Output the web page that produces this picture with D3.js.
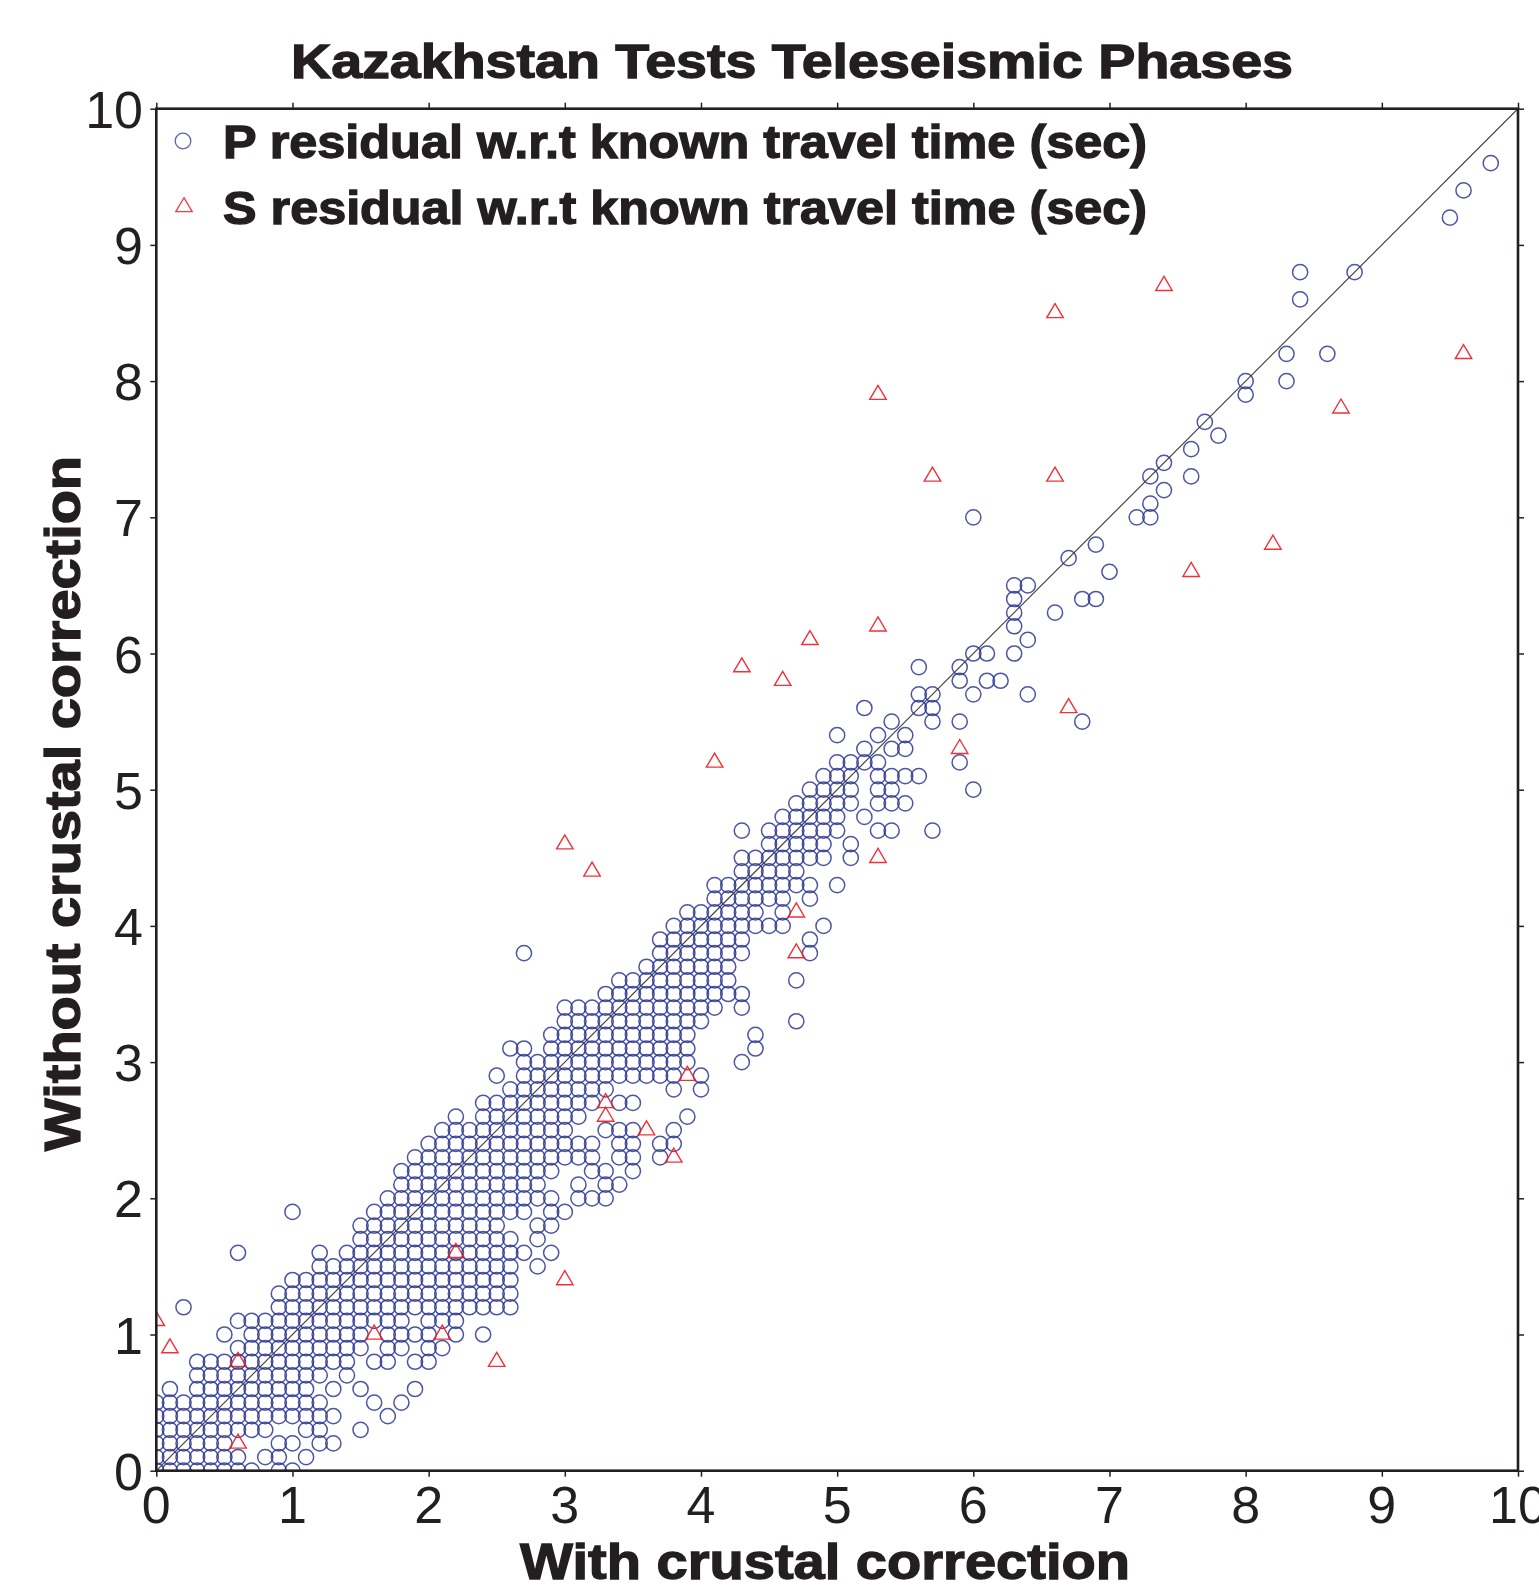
<!DOCTYPE html>
<html>
<head>
<meta charset="utf-8">
<script src="https://cdn.jsdelivr.net/npm/d3@7"></script>
<style>
  html, body { margin: 0; padding: 0; background: #fff; }
  svg { display: block; }
</style>
</head>
<body>
<svg id="chart" width="1539" height="1590"></svg>
<script>
// ---------------- DATA ----------------
const title = "Kazakhstan Tests Teleseismic Phases";
const xLabel = "With crustal correction";
const yLabel = "Without crustal correction";
const legendLabels = ["P residual w.r.t known travel time (sec)", "S residual w.r.t known travel time (sec)"];
const xTicks = [0, 1, 2, 3, 4, 5, 6, 7, 8, 9, 10];
const yTicks = [0, 1, 2, 3, 4, 5, 6, 7, 8, 9, 10];

// P residuals: runs of points on the 0.1 grid, [y, xFrom, xTo] (inclusive)
const pRuns = [
  [0.0,0.0,0.7],[0.0,0.9,1.0],
  [0.1,0.0,0.6],[0.1,0.8,0.9],[0.1,1.1,1.1],
  [0.2,0.0,0.5],[0.2,0.9,1.0],[0.2,1.2,1.3],
  [0.3,0.0,0.8],[0.3,1.1,1.2],[0.3,1.5,1.5],
  [0.4,0.0,1.3],[0.4,1.7,1.7],
  [0.5,0.0,1.2],[0.5,1.6,1.6],[0.5,1.8,1.8],
  [0.6,0.1,0.1],[0.6,0.3,1.1],[0.6,1.3,1.3],[0.6,1.5,1.5],[0.6,1.9,1.9],
  [0.7,0.3,1.2],[0.7,1.4,1.4],
  [0.8,0.3,1.4],[0.8,1.6,1.7],[0.8,1.9,2.0],
  [0.9,0.6,1.5],[0.9,1.7,1.8],[0.9,2.0,2.1],
  [1.0,0.5,0.5],[1.0,0.7,1.5],[1.0,1.7,2.0],[1.0,2.2,2.2],[1.0,2.4,2.4],
  [1.1,0.6,1.8],[1.1,2.0,2.2],
  [1.2,0.2,0.2],[1.2,0.9,2.6],
  [1.3,0.9,2.6],
  [1.4,1.0,2.6],
  [1.5,1.2,2.6],[1.5,2.8,2.8],
  [1.6,0.6,0.6],[1.6,1.2,1.2],[1.6,1.4,2.7],[1.6,2.9,2.9],
  [1.7,1.5,2.6],[1.7,2.8,2.8],
  [1.8,1.5,2.5],[1.8,2.8,2.9],
  [1.9,1.0,1.0],[1.9,1.6,2.7],[1.9,2.9,3.0],
  [2.0,1.7,2.9],[2.0,3.1,3.3],
  [2.1,1.8,2.8],[2.1,3.1,3.1],[2.1,3.3,3.4],
  [2.2,1.8,2.9],[2.2,3.2,3.3],[2.2,3.5,3.5],
  [2.3,1.9,3.2],[2.3,3.4,3.5],[2.3,3.7,3.7],
  [2.4,2.0,3.2],[2.4,3.4,3.5],[2.4,3.7,3.8],
  [2.5,2.1,3.0],[2.5,3.3,3.5],[2.5,3.8,3.8],
  [2.6,2.2,2.2],[2.6,2.4,3.1],[2.6,3.9,3.9],
  [2.7,2.4,3.2],[2.7,3.4,3.5],
  [2.8,2.6,3.3],[2.8,3.8,3.8],[2.8,4.0,4.0],
  [2.9,2.5,2.5],[2.9,2.7,3.8],[2.9,4.0,4.0],
  [3.0,2.7,3.9],[3.0,4.3,4.3],
  [3.1,2.6,2.7],[3.1,2.9,3.9],[3.1,4.4,4.4],
  [3.2,2.9,3.9],[3.2,4.4,4.4],
  [3.3,3.0,4.0],[3.3,4.7,4.7],
  [3.4,3.0,4.1],[3.4,4.3,4.3],
  [3.5,3.3,4.3],
  [3.6,3.4,4.2],[3.6,4.7,4.7],
  [3.7,3.6,4.2],
  [3.8,2.7,2.7],[3.8,3.7,4.3],[3.8,4.8,4.8],
  [3.9,3.7,4.3],[3.9,4.8,4.8],
  [4.0,3.8,4.6],[4.0,4.9,4.9],
  [4.1,3.9,4.4],[4.1,4.6,4.6],
  [4.2,4.1,4.6],[4.2,4.8,4.8],
  [4.3,4.1,4.8],[4.3,5.0,5.0],
  [4.4,4.3,4.7],
  [4.5,4.3,4.9],[4.5,5.1,5.1],
  [4.6,4.5,4.9],[4.6,5.1,5.1],
  [4.7,4.3,4.3],[4.7,4.5,5.0],[4.7,5.3,5.4],[4.7,5.7,5.7],
  [4.8,4.6,5.0],[4.8,5.2,5.2],
  [4.9,4.7,5.1],[4.9,5.3,5.5],
  [5.0,4.8,5.1],[5.0,5.3,5.4],[5.0,6.0,6.0],
  [5.1,4.9,5.1],[5.1,5.3,5.6],
  [5.2,5.0,5.3],[5.2,5.9,5.9],
  [5.3,5.2,5.2],[5.3,5.4,5.5],
  [5.4,5.0,5.0],[5.4,5.3,5.3],[5.4,5.5,5.5],
  [5.5,5.4,5.4],[5.5,5.7,5.7],[5.5,5.9,5.9],[5.5,6.8,6.8],
  [5.6,5.2,5.2],[5.6,5.6,5.7],
  [5.7,5.6,5.7],[5.7,6.0,6.0],[5.7,6.4,6.4],
  [5.8,5.9,5.9],[5.8,6.1,6.2],
  [5.9,5.6,5.6],[5.9,5.9,5.9],
  [6.0,6.0,6.1],[6.0,6.3,6.3],
  [6.1,6.4,6.4],
  [6.2,6.3,6.3],
  [6.3,6.3,6.3],[6.3,6.6,6.6],
  [6.4,6.3,6.3],[6.4,6.8,6.9],
  [6.5,6.3,6.4],
  [6.6,7.0,7.0],
  [6.7,6.7,6.7],
  [6.8,6.9,6.9],
  [7.0,6.0,6.0],[7.0,7.2,7.3],
  [7.1,7.3,7.3],
  [7.2,7.4,7.4],
  [7.3,7.3,7.3],[7.3,7.6,7.6],
  [7.4,7.4,7.4],
  [7.5,7.6,7.6],
  [7.6,7.8,7.8],
  [7.7,7.7,7.7],
  [7.9,8.0,8.0],
  [8.0,8.0,8.0],[8.0,8.3,8.3],
  [8.2,8.3,8.3],[8.2,8.6,8.6],
  [8.6,8.4,8.4],
  [8.8,8.4,8.4],[8.8,8.8,8.8],
  [9.2,9.5,9.5],
  [9.4,9.6,9.6],
  [9.6,9.8,9.8]
];

// S residuals: [x, y]
const sPoints = [
  [0.0,1.1],[0.1,0.9],[0.6,0.8],[0.6,0.2],[1.6,1.0],[2.1,1.0],[2.2,1.6],[2.5,0.8],
  [3.0,1.4],[3.3,2.7],[3.3,2.6],[3.6,2.5],[3.8,2.3],[3.9,2.9],[3.0,4.6],[3.2,4.4],
  [4.1,5.2],[4.3,5.9],[4.6,5.8],[4.8,6.1],[4.7,4.1],[4.7,3.8],[5.3,4.5],[5.3,6.2],
  [5.3,7.9],[5.7,7.3],[5.9,5.3],[6.6,8.5],[6.6,7.3],[6.7,5.6],[7.4,8.7],[7.6,6.6],
  [8.2,6.8],[8.7,7.8],[9.6,8.2]
];

// ---------------- DRAWING ----------------
const plot = { left: 156.3, right: 1518, top: 108.7, bottom: 1470.7 };
const ink = "#231f20";
const pColor = "#25318e";
const sColor = "#ec1c24";

const svg = d3.select("#chart");
const x = d3.scaleLinear().domain([0, 10]).range([plot.left, plot.right]);
const y = d3.scaleLinear().domain([0, 10]).range([plot.bottom, plot.top]);

// expand runs
const pPoints = [];
pRuns.forEach(([yy, x0, x1]) => {
  for (let k = Math.round(x0 * 10); k <= Math.round(x1 * 10); k++) pPoints.push([k / 10, yy]);
});

svg.append("defs").append("clipPath").attr("id", "clip")
  .append("rect").attr("x", plot.left).attr("y", plot.top)
  .attr("width", plot.right - plot.left).attr("height", plot.bottom - plot.top);

const g = svg.append("g").attr("clip-path", "url(#clip)");

// diagonal 1:1 line
g.append("line")
  .attr("x1", x(0)).attr("y1", y(0)).attr("x2", x(10)).attr("y2", y(10))
  .attr("stroke", "#3a3a3a").attr("stroke-width", 1.1);

// P circles
g.append("g").selectAll("circle").data(pPoints).join("circle")
  .attr("cx", d => x(d[0])).attr("cy", d => y(d[1])).attr("r", 7.6)
  .attr("fill", "none").attr("stroke", pColor).attr("stroke-width", 1.5)
  .attr("stroke-opacity", 0.82);

// S triangles (centroid-centred)
const triPath = (w, h) => `M0,${-h * 2 / 3}L${w / 2},${h / 3}L${-w / 2},${h / 3}Z`;
g.append("g").selectAll("path").data(sPoints).join("path")
  .attr("transform", d => `translate(${x(d[0])},${y(d[1])})`)
  .attr("d", triPath(16.5, 14))
  .attr("fill", "none").attr("stroke", sColor).attr("stroke-width", 1.4)
  .attr("stroke-opacity", 0.9);

// frame with outward ticks
const tickLen = 6;
const axB = d3.axisBottom(x).tickValues(xTicks).tickSize(tickLen).tickFormat("");
const axT = d3.axisTop(x).tickValues(xTicks).tickSize(tickLen).tickFormat("");
const axL = d3.axisLeft(y).tickValues(yTicks).tickSize(tickLen).tickFormat("");
const axR = d3.axisRight(y).tickValues(yTicks).tickSize(tickLen).tickFormat("");
[[axB, `translate(0,${plot.bottom})`], [axT, `translate(0,${plot.top})`],
 [axL, `translate(${plot.left},0)`], [axR, `translate(${plot.right},0)`]].forEach(([ax, tr]) => {
  const a = svg.append("g").attr("transform", tr).call(ax);
  a.select(".domain").remove();
  a.selectAll(".tick line").attr("stroke", ink).attr("stroke-width", 1.5);
});
svg.append("rect")
  .attr("x", plot.left).attr("y", plot.top)
  .attr("width", plot.right - plot.left).attr("height", plot.bottom - plot.top)
  .attr("fill", "none").attr("stroke", ink).attr("stroke-width", 2.6);

// tick labels
const numFont = "'Liberation Sans', Arial, Helvetica, sans-serif";
svg.append("g").selectAll("text").data(xTicks).join("text")
  .attr("x", d => x(d)).attr("y", 1523)
  .attr("text-anchor", "middle")
  .attr("font-family", numFont).attr("font-size", 52).attr("fill", ink)
  .text(d => d);
svg.append("g").selectAll("text").data(yTicks).join("text")
  .attr("x", 143).attr("y", d => y(d) + 19)
  .attr("text-anchor", "end")
  .attr("font-family", numFont).attr("font-size", 52).attr("fill", ink)
  .text(d => d);

// bold texts
const boldText = (sel) => sel
  .attr("font-family", numFont).attr("font-weight", "bold").attr("fill", ink)
  .attr("stroke", ink).attr("stroke-width", 1.3).attr("lengthAdjust", "spacingAndGlyphs");

svg.append("text").call(boldText)
  .attr("x", 291).attr("y", 78).attr("font-size", 49)
  .attr("textLength", 1002).text(title);

svg.append("text").call(boldText)
  .attr("x", 520).attr("y", 1579).attr("font-size", 50)
  .attr("textLength", 610).text(xLabel);

svg.append("text").call(boldText)
  .attr("transform", "translate(80,1151) rotate(-90)")
  .attr("font-size", 50)
  .attr("textLength", 695).text(yLabel);

// legend
const leg = svg.append("g");
leg.append("circle").attr("cx", 183).attr("cy", 141).attr("r", 7.8)
  .attr("fill", "none").attr("stroke", pColor).attr("stroke-width", 1.3).attr("stroke-opacity", 0.75);
leg.append("path").attr("transform", "translate(184,207)").attr("d", triPath(16.5, 14))
  .attr("fill", "none").attr("stroke", sColor).attr("stroke-width", 1.3).attr("stroke-opacity", 0.85);
leg.append("text").call(boldText)
  .attr("x", 223).attr("y", 158).attr("font-size", 46)
  .attr("textLength", 924).text(legendLabels[0]);
leg.append("text").call(boldText)
  .attr("x", 223).attr("y", 224).attr("font-size", 46)
  .attr("textLength", 924).text(legendLabels[1]);
</script>
</body>
</html>
